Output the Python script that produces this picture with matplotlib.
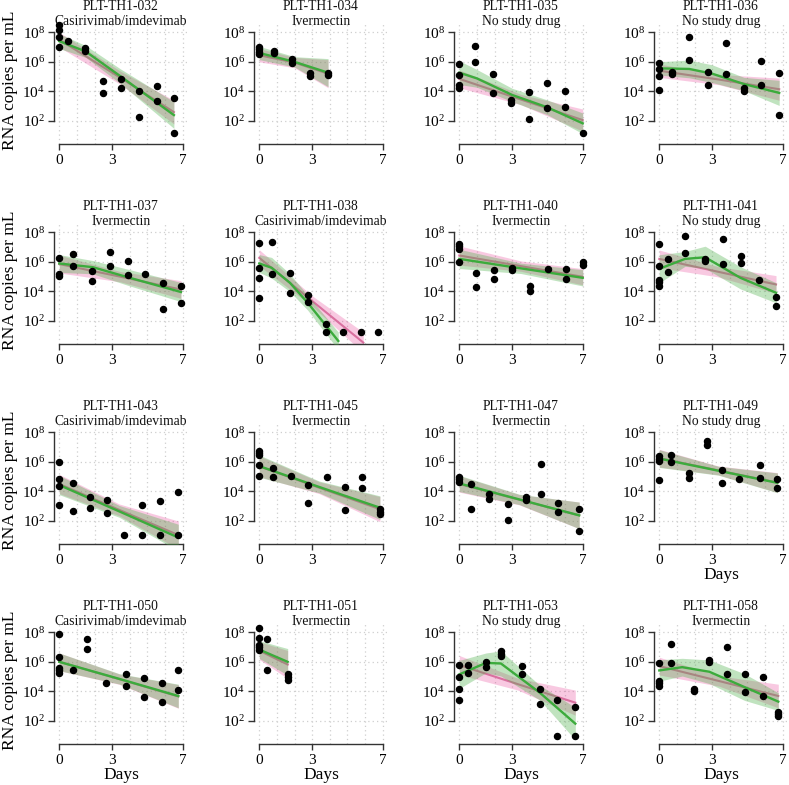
import matplotlib
matplotlib.use("Agg")
import matplotlib.pyplot as plt

plt.rcParams["font.family"] = ["Liberation Serif", "DejaVu Serif"]
plt.rcParams["mathtext.fontset"] = "custom"
plt.rcParams["mathtext.rm"] = "Liberation Serif"
plt.rcParams["mathtext.it"] = "Liberation Serif:italic"

patients = ["PLT-TH1-032", "PLT-TH1-034", "PLT-TH1-035", "PLT-TH1-036",
            "PLT-TH1-037", "PLT-TH1-038", "PLT-TH1-040", "PLT-TH1-041",
            "PLT-TH1-043", "PLT-TH1-045", "PLT-TH1-047", "PLT-TH1-049",
            "PLT-TH1-050", "PLT-TH1-051", "PLT-TH1-053", "PLT-TH1-058"]
arms = ["Casirivimab/imdevimab", "Ivermectin", "No study drug", "No study drug",
        "Ivermectin", "Casirivimab/imdevimab", "Ivermectin", "No study drug",
        "Casirivimab/imdevimab", "Ivermectin", "Ivermectin", "No study drug",
        "Casirivimab/imdevimab", "Ivermectin", "No study drug", "Ivermectin"]

# observed swabs: day, log10 RNA copies per mL
obs_days = [
    [0, 0, 0, 0, 0.49, 1.44, 1.44, 2.48, 2.48, 3.48, 3.48, 4.54, 4.54, 5.52, 5.52, 6.5, 6.5],
    [0, 0, 0, 0, 0.83, 0.83, 1.86, 1.86, 2.86, 2.86, 3.9, 3.9],
    [0, 0, 0, 0, 0.89, 0.89, 1.89, 1.89, 2.91, 2.91, 3.97, 3.97, 4.95, 4.95, 5.97, 5.97, 7.0],
    [0, 0, 0, 0, 0.7, 0.7, 1.68, 1.68, 2.74, 2.74, 3.76, 3.76, 4.8, 4.8, 5.77, 5.77, 6.79, 6.79],
    [0, 0, 0, 0.79, 0.79, 1.87, 1.87, 2.87, 2.87, 3.89, 3.89, 4.88, 5.9, 5.9, 6.9, 6.9],
    [0, 0, 0, 0, 0.7, 0.7, 1.74, 1.74, 2.74, 2.74, 3.78, 3.78, 4.76, 5.76, 6.75],
    [0, 0, 0, 0, 0.94, 0.94, 1.94, 1.94, 2.99, 2.99, 4.0, 4.0, 5.04, 6.07, 6.07, 7.0, 7.0],
    [0, 0, 0, 0, 0, 0.5, 0.5, 1.45, 1.45, 2.59, 2.59, 3.59, 3.59, 4.61, 4.61, 5.65, 6.62, 6.62],
    [0, 0, 0, 0, 0.76, 0.76, 1.74, 1.74, 2.7, 2.7, 3.69, 4.69, 4.69, 5.73, 5.73, 6.75, 6.75],
    [0, 0, 0, 0, 0, 0.79, 0.79, 1.78, 2.78, 2.78, 3.85, 4.85, 4.85, 5.85, 5.85, 6.83, 6.83, 6.83],
    [0, 0, 0, 0.66, 0.66, 1.7, 1.7, 2.74, 2.74, 3.77, 3.77, 4.62, 4.62, 5.62, 5.62, 6.81, 6.81],
    [0, 0, 0, 0, 0.66, 0.66, 1.68, 1.68, 2.72, 2.72, 3.53, 3.53, 4.53, 5.7, 5.7, 6.68, 6.68],
    [0, 0, 0, 0, 0, 0.76, 1.59, 1.59, 2.63, 3.78, 3.78, 4.8, 4.8, 5.82, 5.82, 6.75, 6.75],
    [0, 0, 0, 0, 0, 0.42, 0.42, 1.61, 1.61, 1.61],
    [0, 0, 0, 0, 0.47, 0.47, 1.51, 1.51, 2.36, 2.36, 2.36, 3.57, 3.57, 4.58, 4.58, 5.52, 5.52, 6.58, 6.58],
    [0, 0, 0, 0, 0.66, 0.66, 1.99, 1.99, 2.84, 2.84, 3.86, 3.86, 4.84, 4.84, 5.86, 5.86, 6.75, 6.75, 6.75],
]
obs_log10 = [
    [8.5, 8.16, 7.7, 7.03, 7.41, 6.92, 6.74, 4.70, 3.87, 4.82, 4.25, 4.05, 2.24, 4.39, 3.37, 3.53, 1.16],
    [7.0, 6.85, 6.65, 6.5, 6.76, 6.62, 6.17, 5.95, 5.27, 5.04, 5.27, 5.1],
    [5.83, 5.11, 4.43, 4.25, 7.07, 5.97, 5.18, 3.87, 3.42, 3.24, 3.94, 2.11, 4.55, 2.9, 4.03, 2.92, 1.2],
    [5.95, 5.52, 5.07, 4.1, 5.34, 5.18, 7.71, 6.13, 5.34, 4.41, 7.3, 5.18, 4.2, 4.0, 6.09, 4.41, 5.27, 2.4],
    [6.27, 5.15, 5.03, 6.56, 5.71, 5.37, 4.7, 6.65, 5.75, 6.04, 5.08, 5.17, 4.58, 2.83, 4.34, 3.24],
    [7.28, 5.6, 4.92, 3.57, 7.33, 5.21, 5.26, 3.91, 3.78, 3.28, 1.78, 1.26, 1.26, 1.26, 1.26],
    [7.21, 7.06, 6.88, 6.0, 5.26, 4.31, 5.42, 4.85, 5.6, 5.48, 4.4, 4.0, 5.53, 5.53, 4.85, 5.98, 5.82],
    [7.21, 5.75, 4.76, 4.63, 4.36, 6.2, 5.3, 7.73, 6.6, 6.2, 6.04, 7.57, 5.87, 6.43, 5.93, 4.8, 3.62, 3.01],
    [5.98, 4.81, 4.36, 3.06, 4.54, 2.67, 3.62, 2.9, 3.39, 2.52, 1.03, 3.06, 1.03, 3.35, 1.03, 3.98, 1.03],
    [6.76, 6.6, 6.49, 5.82, 5.03, 5.6, 4.97, 5.03, 4.43, 3.24, 4.97, 4.29, 2.72, 4.97, 4.25, 2.79, 2.63, 2.45],
    [4.97, 4.81, 4.65, 4.52, 2.83, 3.84, 3.51, 3.17, 2.04, 3.62, 3.39, 5.87, 3.8, 3.24, 2.61, 2.79, 1.33],
    [6.38, 6.22, 6.09, 4.74, 6.49, 6.0, 5.26, 4.92, 7.44, 7.12, 5.42, 4.54, 4.81, 5.82, 4.92, 4.81, 4.2],
    [7.91, 6.31, 5.6, 5.42, 5.26, 5.42, 7.57, 6.9, 4.54, 5.19, 4.36, 4.88, 3.62, 4.54, 3.3, 5.42, 4.07],
    [8.29, 7.62, 7.17, 6.99, 6.83, 7.57, 5.42, 5.15, 4.97, 4.76],
    [5.78, 5.0, 4.18, 3.44, 5.78, 5.26, 5.98, 5.64, 6.72, 6.54, 6.43, 5.73, 5.15, 4.18, 3.12, 3.44, 0.99, 2.97, 0.99],
    [5.89, 4.7, 4.54, 4.4, 7.21, 5.89, 4.18, 4.02, 6.11, 5.98, 7.01, 5.19, 5.21, 3.98, 4.97, 3.69, 2.63, 2.49, 2.34],
]

# flexible (green) fit: days, log10 fit, half-width of band
spline_days = [
    [0, 1.5, 3.5, 6.5], [0, 2, 3.9], [0, 1, 3, 5, 7], [0, 1.7, 3, 4.8, 6.8],
    [0, 1.9, 4, 6.9], [0, 0.7, 1.74, 2.74, 4.48], [0, 3.5, 7], [0, 1.46, 2.6, 4.6, 6.62],
    [0, 3.4, 6.75], [0, 3.4, 6.84], [0, 3.4, 6.8], [0, 3.35, 6.7],
    [0, 3.4, 6.75], [0, 1.61], [0, 1.51, 2.36, 4.57, 6.58], [0, 1.3, 2.84, 4.84, 6.75],
]
spline_fit = [
    [7.4, 6.7, 5.0, 2.4], [6.6, 6.0, 5.27], [5.27, 4.88, 3.76, 2.92, 1.84], [5.56, 5.52, 5.2, 4.5, 3.9],
    [5.89, 5.64, 4.92, 3.96], [5.89, 5.6, 4.58, 3.24, 0.65], [6.2, 5.56, 4.92], [5.53, 6.2, 6.31, 4.92, 3.91],
    [4.43, 2.65, 0.88], [5.71, 4.3, 2.9], [4.54, 3.46, 2.38], [6.22, 5.4, 4.58],
    [6.0, 4.85, 3.69], [6.83, 6.0], [5.15, 5.93, 5.89, 3.91, 1.82], [5.42, 5.64, 5.33, 4.29, 3.31],
]
spline_half = [
    [0.5, 0.4, 0.5, 0.9], [0.45, 0.35, 0.95], [0.8, 0.6, 0.45, 0.5, 0.7], [0.45, 0.6, 0.6, 0.45, 0.85],
    [0.6, 0.45, 0.55, 0.65], [0.6, 0.7, 0.6, 0.5, 0.6], [0.65, 0.35, 0.55], [0.95, 0.5, 0.75, 0.75, 0.68],
    [0.65, 0.4, 0.9], [0.75, 0.4, 0.8], [0.55, 0.35, 0.9], [0.6, 0.3, 0.67],
    [0.6, 0.35, 0.8], [0.6, 0.9], [0.95, 0.67, 0.85, 0.5, 1.1], [0.72, 0.6, 0.8, 0.9, 0.6],
]

# linear (pink) fit: days, log10 fit, half-width of band
linear_days = [
    [0, 3.5, 6.5], [0, 2, 3.9], [0, 3.5, 7], [0, 3.4, 6.8],
    [0, 3.45, 6.9], [0, 3, 5.9], [0, 3.5, 7], [0, 3.3, 6.62],
    [0, 3.4, 6.75], [0, 3.4, 6.84], [0, 3.4, 6.8], [0, 3.35, 6.7],
    [0, 3.4, 6.75], [0, 1.61], [0, 3.3, 6.58], [0, 3.4, 6.75],
]
linear_fit = [
    [7.5, 4.9, 2.6], [6.45, 5.95, 5.2], [4.85, 3.45, 2.06], [5.4, 4.8, 4.15],
    [5.85, 5.0, 4.13], [6.27, 3.35, 0.54], [6.43, 5.71, 4.99], [6.2, 5.34, 4.47],
    [4.5, 2.75, 1.05], [5.7, 4.25, 2.8], [4.5, 3.44, 2.38], [6.25, 5.42, 4.6],
    [6.0, 4.83, 3.66], [6.76, 5.82], [5.78, 4.5, 3.24], [5.71, 4.7, 3.69],
]
linear_half = [
    [0.5, 0.45, 0.8], [0.45, 0.35, 0.95], [0.6, 0.35, 0.75], [0.45, 0.35, 0.75],
    [0.6, 0.35, 0.6], [0.55, 0.35, 0.7], [0.65, 0.35, 0.55], [0.6, 0.35, 0.6],
    [0.65, 0.4, 0.95], [0.7, 0.4, 0.85], [0.55, 0.35, 0.9], [0.6, 0.3, 0.67],
    [0.6, 0.35, 0.8], [0.6, 0.95], [0.65, 0.4, 0.85], [0.6, 0.35, 0.8],
]

W, H = 789, 785
fig = plt.figure(figsize=(W / 100, H / 100), dpi=100)

green = "#3cab3c"
pink = "#d9709f"
px_day = 17.63
px_dec = 14.78
xlo, xhi = -0.3, 7.3
ylo, yhi = 0.44, 8.6

for i in range(16):
    r, c = divmod(i, 4)
    x0 = 59.3 + 200 * c
    ytop8 = 32.3 + 200 * r
    left = x0 + xlo * px_day
    width = (xhi - xlo) * px_day
    top = ytop8 - (yhi - 8) * px_dec
    height = (yhi - ylo) * px_dec
    ax = fig.add_axes([left / W, 1 - (top + height) / H, width / W, height / H])
    ax.set_yscale("log")
    ax.set_xlim(xlo, xhi)
    ax.set_ylim(10 ** ylo, 10 ** yhi)

    for d in range(8):
        ax.axvline(d, color="#cfcfcf", lw=0.9, ls=(0, (1, 2.5)), zorder=0)
    for e in [2, 4, 6, 8]:
        ax.axhline(10 ** e, color="#cfcfcf", lw=0.9, ls=(0, (1, 2.5)), zorder=0)

    ld, lf, lh = linear_days[i], linear_fit[i], linear_half[i]
    ax.fill_between(ld, [10 ** (f - h) for f, h in zip(lf, lh)],
                    [10 ** (f + h) for f, h in zip(lf, lh)],
                    color="#e7298a", alpha=0.25, lw=0, zorder=1)
    ax.plot(ld, [10 ** f for f in lf], color=pink, lw=1.5, zorder=2)

    sd, sf, sh = spline_days[i], spline_fit[i], spline_half[i]
    ax.fill_between(sd, [10 ** (f - h) for f, h in zip(sf, sh)],
                    [10 ** (f + h) for f, h in zip(sf, sh)],
                    color="#4daf4a", alpha=0.35, lw=0, zorder=3)
    ax.plot(sd, [10 ** f for f in sf], color=green, lw=1.7, zorder=4)

    ax.scatter(obs_days[i], [10 ** v for v in obs_log10[i]], s=19, color="black",
               zorder=5, clip_on=False)

    for side in ["top", "right"]:
        ax.spines[side].set_visible(False)
    ax.spines["left"].set_bounds(1e2, 1e8)
    ax.spines["bottom"].set_bounds(0, 7)
    for side in ["left", "bottom"]:
        ax.spines[side].set_color("#333333")
        ax.spines[side].set_linewidth(1.0)
    ax.set_xticks([0, 3, 7])
    ax.set_xticklabels(["0", "3", "7"])
    ax.set_yticks([1e2, 1e4, 1e6, 1e8])
    ax.set_yticklabels([r"$10^{2}$", r"$10^{4}$", r"$10^{6}$", r"$10^{8}$"])
    ax.minorticks_off()
    ax.tick_params(axis="both", length=4.5, width=1.0, color="#333333",
                   labelsize=11, pad=2)
    ax.tick_params(axis="x", pad=3)

    ax.text(3.5, 10 ** 8 * 10 ** (25.8 / px_dec), patients[i], ha="center", va="center",
            fontsize=9.8, color="#111111")
    ax.text(3.5, 10 ** 8 * 10 ** (10.5 / px_dec), arms[i], ha="center", va="center",
            fontsize=9.8, color="#111111")

    if c == 0:
        fig.text(10 / W, 1 - (80 + 200 * r) / H, "RNA copies per mL", rotation=90,
                 ha="center", va="center", fontsize=12.5)
    if r == 3 or (r == 2 and c == 3):
        fig.text((x0 + 3.5 * px_day) / W, 1 - (144 + 200 * r + 31) / H, "Days",
                 ha="center", va="center", fontsize=12.5)

fig.savefig("out.png", dpi=100)
